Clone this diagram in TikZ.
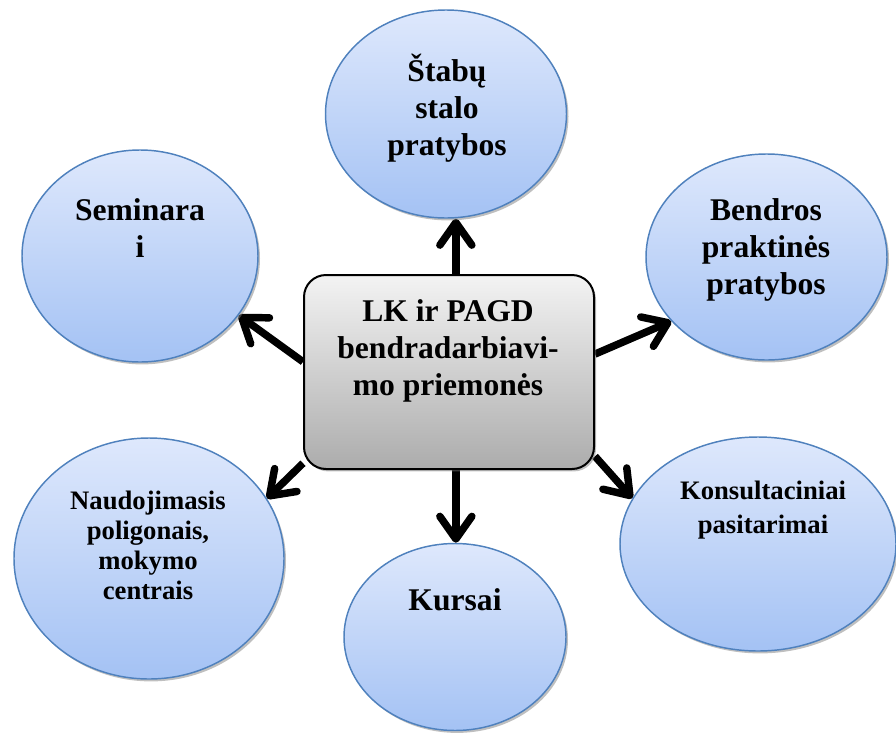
\documentclass[tikz,border=0pt]{standalone}
\usepackage{fontspec}
\setmainfont{Liberation Serif}
\usetikzlibrary{shapes.geometric,shadows,arrows.meta,backgrounds}
\definecolor{ovalTop}{RGB}{222,232,252}
\definecolor{ovalBot}{RGB}{164,194,244}
\definecolor{ovalLine}{RGB}{79,129,189}
\definecolor{boxTop}{RGB}{243,243,243}
\definecolor{boxBot}{RGB}{172,172,172}
\tikzset{
  oval/.style={ellipse, draw=ovalLine, line width=1.1pt, top color=ovalTop,
    bottom color=ovalBot, inner sep=0pt,
    drop shadow={shadow xshift=1.5pt, shadow yshift=-1.8pt, fill=black!50, opacity=0.5}},
  mainbox/.style={rectangle, rounded corners=16.5pt, draw=black, line width=1.5pt,
    top color=boxTop, bottom color=boxBot, minimum width=217.5pt, minimum height=145.5pt,
    drop shadow={shadow xshift=1.5pt, shadow yshift=-1.8pt, fill=black!50, opacity=0.5}},
  big/.style={align=center, font=\fontsize{23.7}{27.8}\selectfont\bfseries},
  small/.style={align=center, font=\fontsize{20}{22.5}\selectfont\bfseries},
  arr/.style={line width=5.6pt, -{Straight Barb[length=17pt,width=24pt,round]},
    preaction={draw=black!35, transform canvas={shift={(1.5pt,-1.8pt)}}}}
}
\begin{document}
\begin{tikzpicture}[x=0.75pt, y=-0.75pt]
    \useasboundingbox (0, 0) rectangle (896, 732);
        % ovals
        \node[oval, minimum width=180.75pt, minimum height=156pt] (stab) at (446, 114) {};
        \node[oval, minimum width=177pt, minimum height=159pt] (sem) at (140, 256) {};
        \node[oval, minimum width=180.75pt, minimum height=154.5pt] (bend) at (766.5, 257) {};
        \node[oval, minimum width=202.5pt, minimum height=180.75pt] (naud) at (149, 558.5) {};
        \node[oval, minimum width=166.5pt, minimum height=140.25pt] (kurs) at (455, 637) {};
        \node[oval, minimum width=207pt, minimum height=160.5pt] (kons) at (758, 544) {};
        \node[mainbox] (lk) at (449, 372) {};

        \node[big] (stabtxt) at (447, 108) {Štabų\\stalo\\pratybos};
        \node[big] (semtxt) at (140, 228) {Seminara\\i};
        \node[big] (bendtxt) at (766, 250) {Bendros\\praktinės\\pratybos};
        \node[big] (lktxt) at (448, 351) {LK ir PAGD\\bendradarbiavi-\\mo priemonės};
        \node[small] (naudtxt) at (148, 545) {Naudojimasis\\poligonais,\\mokymo\\centrais};
        \node[big] (kurstxt) at (455, 600) {Kursai};
        \node[small, font=\fontsize{20}{25.5}\selectfont\bfseries] (konstxt) at (763, 510) {Konsultaciniai\\pasitarimai};

        \begin{scope}[on background layer]
            \draw[arr] (lk.86) to (lk.86 |- stab.south);
            \draw[arr] (lk.176.4) to (sem.-31.4);
            \draw[arr] (lk.7.9) to (bend.214.2);
            \draw[arr] (lk.212) to (naud.27.1);
            \draw[arr] (lk.-86) to (lk.-86 |- kurs.north);
            \draw[arr] (lk.-30.7) to (kons.160);
        \end{scope}
    \end{tikzpicture}
\end{document}
